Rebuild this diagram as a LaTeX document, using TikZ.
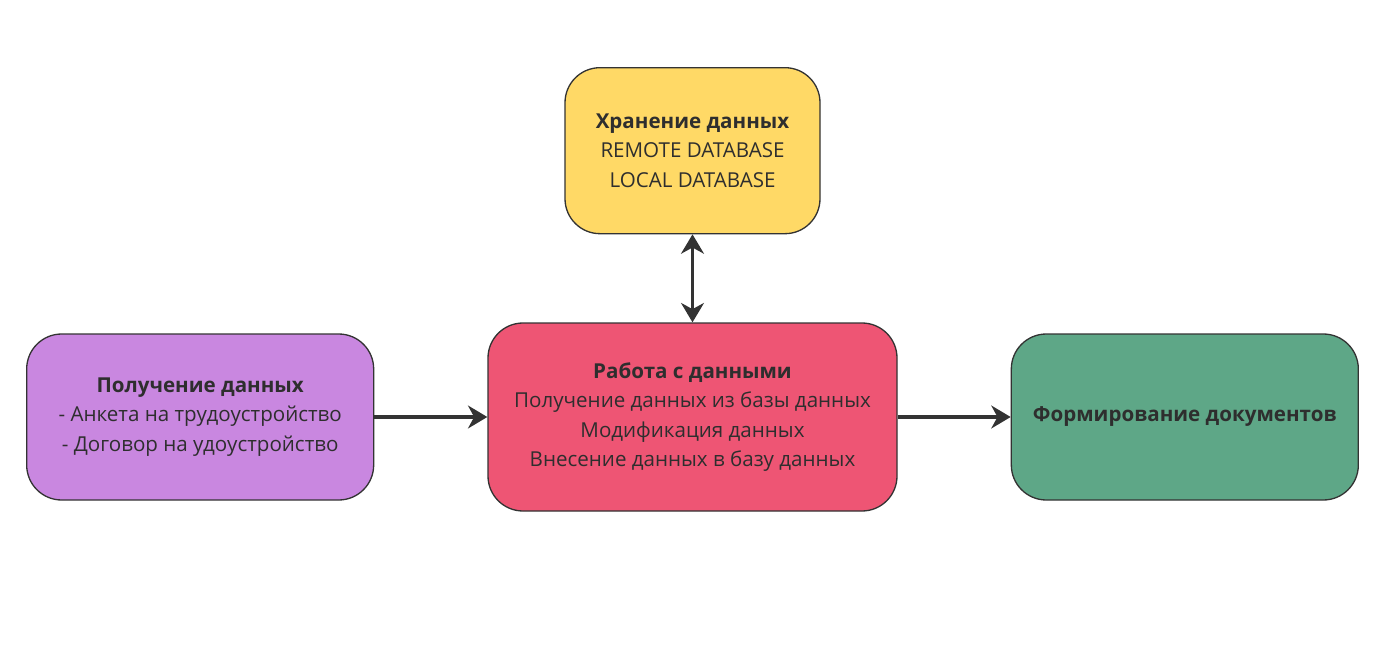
\documentclass[tikz,border=0pt]{standalone}
\usepackage{fontspec}
\setmainfont{Open Sans}
\usepackage{xcolor}
\usepackage{tikz}
\usetikzlibrary{shapes.geometric, arrows.meta, positioning}
\definecolor{boxline}{HTML}{333333}
\definecolor{boxtext}{HTML}{2E2E2E}
\definecolor{storefill}{HTML}{FFD966}
\definecolor{workfill}{HTML}{EE5574}
\definecolor{inputfill}{HTML}{C987E0}
\definecolor{outputfill}{HTML}{5EA787}
\tikzstyle{block} = [rectangle, rounded corners=0.7cm, minimum height=3.32cm, text centered, align=center, draw=boxline, line width=0.75pt, text=boxtext, font=\fontsize{11.7}{16.8}\selectfont]
\tikzstyle{store} = [block, minimum width=5.1cm, fill=storefill]
\tikzstyle{work} = [block, minimum width=8.18cm, minimum height=3.76cm, fill=workfill]
\tikzstyle{side} = [block, minimum width=6.94cm]
\tikzstyle{arrow} = [line width=2pt, draw=boxline, -{Stealth[length=11pt, width=13pt, inset=3.5pt]}]
\tikzstyle{darrow} = [line width=2pt, draw=boxline, {Stealth[length=11pt, width=13pt, inset=3.5pt]}-{Stealth[length=11pt, width=13pt, inset=3.5pt]}]

\begin{document}
\begin{tikzpicture}
				\useasboundingbox (0,0) rectangle (27.54,-13.14);
				
				\node (work) [work] at (13.85,-8.34) {\textbf{Работа с данными}\\Получение данных из базы данных\\Модификация данных\\Внесение данных в базу данных};
				\node (store) [store, above=1.76cm of work] {\textbf{Хранение данных}\\REMOTE DATABASE\\LOCAL DATABASE};
				\node (input) [side, fill=inputfill, left=2.26cm of work] {\textbf{Получение данных}\\- Анкета на трудоустройство\\- Договор на удоустройство};
				\node (output) [side, fill=outputfill, right=2.26cm of work] {\textbf{Формирование документов}};
				
				\draw [arrow] (input) -- (work);
				\draw [arrow] (work) -- (output);
				\draw [darrow] (work) -- (store);
				
\end{tikzpicture}
\end{document}
